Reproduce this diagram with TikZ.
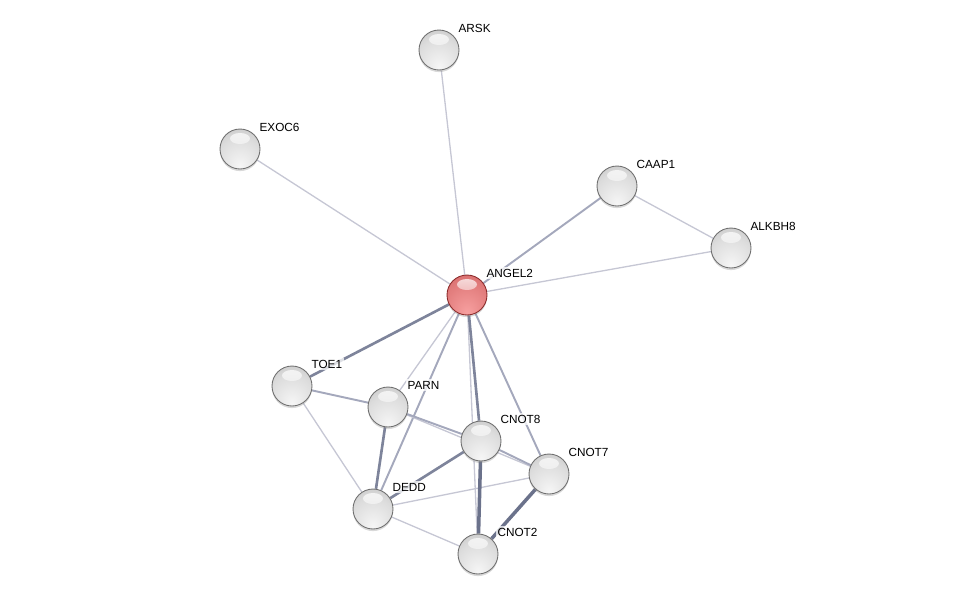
\documentclass[tikz,border=0pt]{standalone}
\usepackage{fontspec}
\setmainfont{Liberation Sans}
\usetikzlibrary{backgrounds, fadings, shadows}
\definecolor{greyA}{HTML}{F6F6F6}
\definecolor{greyB}{HTML}{DCDCDC}
\definecolor{greyC}{HTML}{B8B8B8}
\definecolor{greyD}{HTML}{8E8E8E}
\definecolor{greyE}{HTML}{707070}
\definecolor{redA}{HTML}{F7A0A0}
\definecolor{redB}{HTML}{E27D7D}
\definecolor{redC}{HTML}{CC5C5C}
\definecolor{redD}{HTML}{AA3E3E}
\definecolor{redE}{HTML}{8C2C2C}
\pgfdeclareradialshading{grey ball}{\pgfpoint{0bp}{-22bp}}{%
  color(0bp)=(greyA); color(28bp)=(greyB); color(52bp)=(greyC);
  color(66bp)=(greyD); color(74bp)=(greyE)}
\pgfdeclareradialshading{red ball}{\pgfpoint{0bp}{-22bp}}{%
  color(0bp)=(redA); color(28bp)=(redB); color(52bp)=(redC);
  color(66bp)=(redD); color(74bp)=(redE)}
\definecolor{edgeweak}{HTML}{C6C7D4}
\definecolor{edgemid}{HTML}{A4A8BC}
\definecolor{edgestrong}{HTML}{7E849B}
\definecolor{edgetop}{HTML}{6B728B}
\tikzset{
  prot node/.style={
    circle, minimum size=0.8cm, inner sep=0pt,
    shading=grey ball, draw=greyE, line width=0.5pt,
    drop shadow={opacity=0.3, shadow xshift=0pt, shadow yshift=-1.2pt},
    path picture={
      \fill[white, opacity=0.8, path fading=south]
        ([yshift=0.21cm]path picture bounding box.center) ellipse (0.2cm and 0.11cm);
    }
  },
  prot query/.style={
    prot node, shading=red ball, draw=redE
  },
  prot label/.style={
    xshift=-0.06cm, yshift=0.44cm,
    font=\fontsize{6.7}{8}\selectfont, fill=white, fill opacity=0.75,
    text opacity=1, inner sep=1pt
  },
  weak link/.style={draw=edgeweak, line width=0.75pt},
  mid link/.style={draw=edgemid, line width=1.1pt},
  strong link/.style={draw=edgestrong, line width=1.5pt},
  top link/.style={draw=edgetop, line width=2pt}
}
\begin{document}
\begin{tikzpicture}[x=0.02cm, y=-0.02cm]
  \useasboundingbox (0,0) rectangle (976,600);

  \node (arsk)   [prot node, label={[prot label]right:ARSK}]   at (439,50)  {};
  \node (exoc6)  [prot node, label={[prot label]right:EXOC6}]  at (240,149) {};
  \node (caap1)  [prot node, label={[prot label]right:CAAP1}]  at (617,186) {};
  \node (alkbh8) [prot node, label={[prot label]right:ALKBH8}] at (731,248) {};
  \node (angel2) [prot query, label={[prot label]right:ANGEL2}] at (467,295) {};
  \node (toe1)   [prot node, label={[prot label]right:TOE1}]   at (292,386) {};
  \node (parn)   [prot node, label={[prot label]right:PARN}]   at (388,407) {};
  \node (cnot8)  [prot node, label={[prot label]right:CNOT8}]  at (481,441) {};
  \node (cnot7)  [prot node, label={[prot label]right:CNOT7}]  at (549,474) {};
  \node (dedd)   [prot node, label={[prot label]right:DEDD}]   at (373,509) {};
  \node (cnot2)  [prot node, label={[prot label]right:CNOT2}]  at (478,554) {};

  \begin{pgfonlayer}{background}
    \draw [weak link] (arsk) -- (angel2);
    \draw [weak link] (exoc6) -- (angel2);
    \draw [mid link] (caap1) -- (angel2);
    \draw [weak link] (caap1) -- (alkbh8);
    \draw [weak link] (alkbh8) -- (angel2);
    \draw [strong link] (angel2) -- (toe1);
    \draw [weak link] (angel2) -- (parn);
    \draw [mid link] (angel2) -- (dedd);
    \draw [weak link] (angel2) -- (cnot2);
    \draw [strong link] (angel2) -- (cnot8);
    \draw [mid link] (angel2) -- (cnot7);
    \draw [mid link] (toe1) -- (parn);
    \draw [weak link] (toe1) -- (dedd);
    \draw [weak link] (parn) -- (cnot7);
    \draw [mid link] (parn) -- (cnot8);
    \draw [strong link] (parn) -- (dedd);
    \draw [mid link] (cnot8) -- (cnot7);
    \draw [strong link] (dedd) -- (cnot8);
    \draw [weak link] (dedd) -- (cnot7);
    \draw [weak link] (dedd) -- (cnot2);
    \draw [top link] (cnot8) -- (cnot2);
    \draw [top link] (cnot7) -- (cnot2);
  \end{pgfonlayer}
\end{tikzpicture}
\end{document}
